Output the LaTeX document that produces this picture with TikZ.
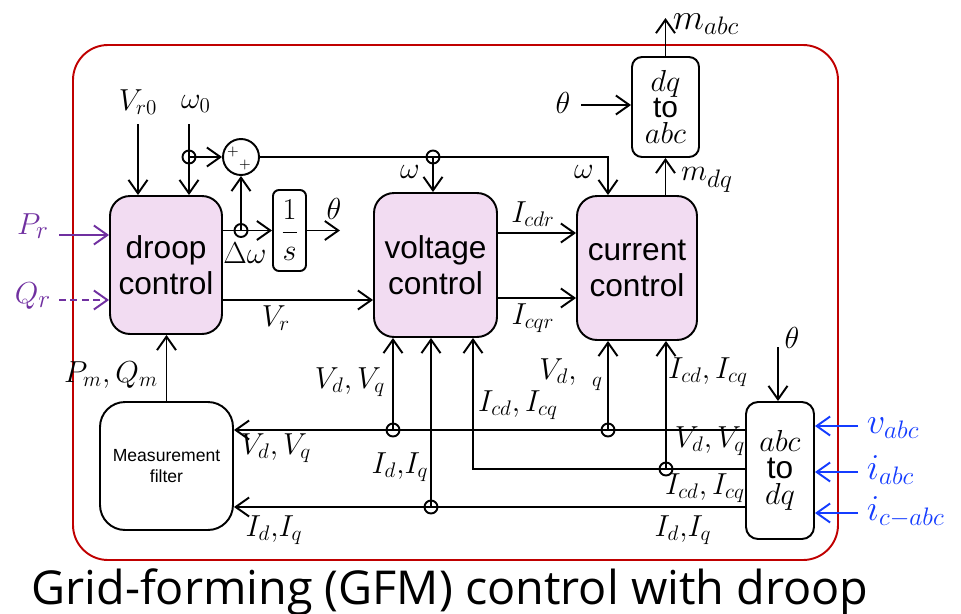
\documentclass[tikz,border=0pt]{standalone}
\usepackage[no-math]{fontspec}
\setmainfont{Liberation Sans}
\newfontfamily\captionfont{Open Sans}
\usetikzlibrary{arrows.meta}
\definecolor{boxpink}{RGB}{242,220,242}
\definecolor{framered}{RGB}{192,0,0}
\definecolor{refpurple}{RGB}{112,48,160}
\definecolor{measblue}{RGB}{20,60,255}

\begin{document}
\begin{tikzpicture}[x=0.02cm, y=-0.02cm, line width=1.1pt,
	arr/.style={-{Straight Barb[length=2.7mm, width=3.8mm]}},
	blk/.style={draw, fill=boxpink, rounded corners=0.4cm, align=center, inner sep=0pt, font=\fontsize{18}{20.5}\selectfont},
	wbox/.style={draw, fill=white, align=center, inner sep=0pt},
	lbl/.style={inner sep=0pt, font=\fontsize{18}{20}\selectfont}]
	\useasboundingbox (0,0) rectangle (961,613);
	\draw[framered, rounded corners=0.7cm] (73,45) rectangle (838,560);
	
	% blocks
	\node[blk, minimum width=2.24cm, minimum height=2.76cm] (droop) at (166,265) {droop\\control};
	\node[blk, minimum width=2.46cm, minimum height=2.88cm] (volt) at (435.5,265) {voltage\\control};
	\node[blk, minimum width=2.4cm, minimum height=2.88cm] (curr) at (637,268) {current\\control};
	\node[wbox, rounded corners=0.2cm, minimum width=1.34cm, minimum height=2cm, font=\fontsize{17}{15}\selectfont] (dqabc) at (665.5,107) {$dq$\\to\\$abc$};
	\node[wbox, rounded corners=0.12cm, minimum width=0.66cm, minimum height=1.62cm, font=\fontsize{18}{20}\selectfont] (integ) at (289.5,230.5) {$\displaystyle\frac{1}{s}$};
	\node[wbox, rounded corners=0.5cm, minimum width=2.66cm, minimum height=2.56cm, font=\fontsize{10}{12}\selectfont] (meas) at (166.5,466) {Measurement\\filter};
	\node[wbox, rounded corners=0.24cm, minimum width=1.36cm, minimum height=2.74cm, font=\fontsize{18}{15}\selectfont] (abcdq) at (780,470.5) {$abc$\\to\\$dq$};
	\node[draw, circle, minimum size=0.72cm, inner sep=0pt] (sum) at (241,157) {};
	\node[inner sep=0pt, font=\fontsize{8}{8}\selectfont] (p1) at (233,152) {$+$};
	\node[inner sep=0pt, font=\fontsize{8}{8}\selectfont] (p2) at (245,165) {$+$};
	
	% references
	\coordinate (vr0) at (138,124);
	\coordinate (w0) at (189,124);
	\coordinate (j1) at (189,157);
	\node[lbl] (lvr0) at (138,102) {$V_{r0}$};
	\node[lbl] (lw0) at (196,104) {$\omega_0$};
	\draw[arr] (vr0) -- (vr0 |- droop.north);
	\draw[arr] (w0) -- (w0 |- droop.north);
	\draw[arr] (j1) -- (sum.west);
	
	\coordinate (pr) at (59,235);
	\coordinate (qr) at (59,300);
	\draw[arr, refpurple] (pr) -- (pr -| droop.west);
	\draw[arr, refpurple, dash pattern=on 4pt off 2.5pt] (qr) -- (qr -| droop.west);
	\node[lbl, refpurple, font=\fontsize{19}{20}\selectfont] (lpr) at (33,226) {$P_r$};
	\node[lbl, refpurple, font=\fontsize{19}{20}\selectfont] (lqr) at (33,296) {$Q_r$};
	
	% frequency and angle
	\coordinate (j2) at (sum |- integ);
	\draw[arr] (droop.east |- integ) -- (integ.west);
	\draw[arr] (j2) -- (sum.south);
	\node[lbl] (ldw) at (245,253) {$\Delta\omega$};
	\coordinate (thout) at (340,230.5);
	\draw[arr] (integ.east) -- (thout);
	\node[lbl] (lth1) at (334,209) {$\theta$};
	
	\coordinate (wc) at (608,157);
	\coordinate (j3) at (433,157);
	\draw[arr] (sum.east) -- (wc) -- (wc |- curr.north);
	\draw[arr] (j3) -- (j3 |- volt.north);
	\node[lbl] (lw1) at (410,172) {$\omega$};
	\node[lbl] (lw2) at (584,172) {$\omega$};
	
	\draw[arr] (droop.east |- 0,300) -- (volt.west |- 0,300);
	\node[lbl] (lvr) at (276,318) {$V_r$};
	
	\draw[arr] (volt.east |- 0,233) -- (curr.west |- 0,233);
	\draw[arr] (volt.east |- 0,298) -- (curr.west |- 0,298);
	\node[lbl] (licdr) at (533,214) {$I_{cdr}$};
	\node[lbl] (licqr) at (533,318) {$I_{cqr}$};
	
	% modulation
	\draw[arr] (curr.north -| dqabc.south) -- (dqabc.south);
	\node[lbl, font=\fontsize{19}{20}\selectfont] (lmdq) at (707,180) {$m_{dq}$};
	\coordinate (mabc) at (665.5,18);
	\draw[arr] (dqabc.north) -- (mabc);
	\node[lbl, font=\fontsize{20}{20}\selectfont] (lmabc) at (706,24) {$m_{abc}$};
	\coordinate (th1) at (581,105);
	\draw[arr] (th1) -- (th1 -| dqabc.west);
	\node[lbl] (lth2) at (563,103) {$\theta$};
	
	% measurements
	\draw[arr] (meas.north) -- (meas.north |- droop.south);
	\node[lbl] (lpq) at (111,375) {$P_m, Q_m$};
	
	\coordinate (th3) at (778,347);
	\draw[arr] (th3) -- (th3 |- abcdq.north);
	\node[lbl] (lth3) at (792,338) {$\theta$};
	
	\coordinate (vin) at (858,426);
	\coordinate (iin) at (858,472);
	\coordinate (icin) at (858,513);
	\draw[arr, measblue] (vin) -- (vin -| abcdq.east);
	\draw[arr, measblue] (iin) -- (iin -| abcdq.east);
	\draw[arr, measblue] (icin) -- (icin -| abcdq.east);
	\node[lbl, measblue, anchor=west, font=\fontsize{20}{20}\selectfont] (lvabc) at (866,428) {$v_{abc}$};
	\node[lbl, measblue, anchor=west, font=\fontsize{20}{20}\selectfont] (liabc) at (866,470) {$i_{abc}$};
	\node[lbl, measblue, anchor=west, font=\fontsize{20}{20}\selectfont] (licabc) at (866,512) {$i_{c-abc}$};
	
	\draw[arr] (abcdq.west |- 0,430) -- (meas.east |- 0,430);
	\draw[arr] (abcdq.west |- 0,507) -- (meas.east |- 0,507);
	\draw[arr] (abcdq.west |- 0,469) -| (volt.south -| 473,0);
	
	\coordinate (jv1) at (393,430);
	\coordinate (jv2) at (608,430);
	\coordinate (ji1) at (666,469);
	\coordinate (ji2) at (431,507);
	\draw[arr] (jv1) -- (jv1 |- volt.south);
	\draw[arr] (jv2) -- (jv2 |- curr.south);
	\draw[arr] (ji1) -- (ji1 |- curr.south);
	\draw[arr] (ji2) -- (ji2 |- volt.south);
	\foreach \j in {j1,j2,j3,jv1,jv2,ji1,ji2}
		\draw (\j) circle[radius=0.13cm];
	
	\node[lbl] (lvdq1) at (350,382) {$V_d, V_q$};
	\node[lbl] (lidq1) at (400,467) {$I_d{,}I_q$};
	\node[lbl] (licdq1) at (518,405) {$I_{cd}, I_{cq}$};
	\node[lbl] (lvd2) at (558,372) {$V_d,$};
	\node[lbl, font=\fontsize{12}{12}\selectfont] (lq2) at (597,384) {$q$};
	\node[lbl] (licdq2) at (708,372) {$I_{cd}, I_{cq}$};
	\node[lbl] (lvdq3) at (276,448) {$V_d, V_q$};
	\node[lbl] (lidq3) at (274,530) {$I_d{,}I_q$};
	\node[lbl] (lvdq4) at (710,441) {$V_d, V_q$};
	\node[lbl] (licdq4) at (705,488) {$I_{cd}, I_{cq}$};
	\node[lbl] (lidq4) at (683,530) {$I_d{,}I_q$};
	
	\node[inner sep=0pt, anchor=base, font=\captionfont\fontsize{26.6}{28}\selectfont] (caption) at (450,604) {Grid-forming (GFM) control with droop};
\end{tikzpicture}
\end{document}
